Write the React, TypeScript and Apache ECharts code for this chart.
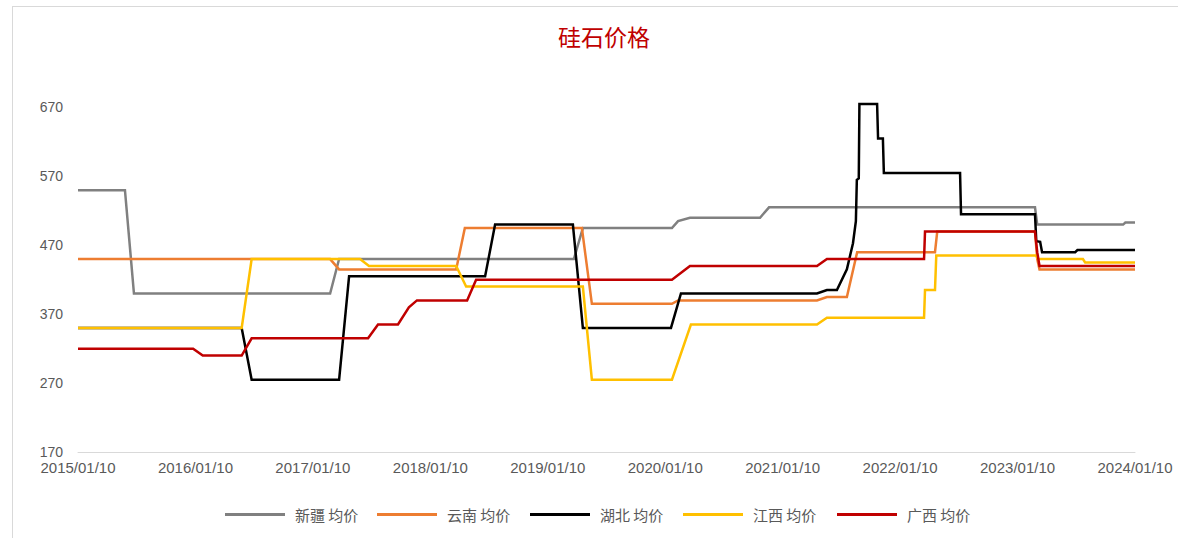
import React, { useEffect, useRef } from "react";
import * as echarts from "echarts";

// ---------- data ----------
const chartTitle = "硅石价格";
const seriesNames = ["新疆 均价", "云南 均价", "湖北 均价", "江西 均价", "广西 均价"];
const seriesColors = ["#808080", "#ED7D31", "#000000", "#FFC000", "#C00000"];
const xTickLabels = [
  "2015/01/10", "2016/01/10", "2017/01/10", "2018/01/10", "2019/01/10",
  "2020/01/10", "2021/01/10", "2022/01/10", "2023/01/10", "2024/01/10",
];
const xStart = "2015-01-10";
const xEnd = "2024-01-10";
const yTicks = [170, 270, 370, 470, 570, 670];

const xinjiang: [string, number][] = [
  ["2015-01-10", 550], ["2015-06-05", 550], ["2015-07-03", 400], ["2017-03-04", 400],
  ["2017-04-01", 450], ["2019-04-01", 450], ["2019-04-29", 495], ["2020-01-31", 495],
  ["2020-02-19", 505], ["2020-03-27", 510], ["2020-10-31", 510], ["2020-11-28", 525],
  ["2023-03-05", 525], ["2023-03-12", 500], ["2023-12-04", 500], ["2023-12-11", 503],
  ["2024-01-10", 503],
];
const yunnan: [string, number][] = [
  ["2015-01-10", 450], ["2017-03-04", 450], ["2017-04-01", 435], ["2018-03-31", 435],
  ["2018-04-27", 495], ["2019-04-26", 495], ["2019-05-27", 385], ["2020-01-31", 385],
  ["2020-02-19", 390], ["2021-04-26", 390], ["2021-05-27", 395], ["2021-07-28", 395],
  ["2021-08-29", 460], ["2022-04-28", 460], ["2022-05-05", 490], ["2023-03-05", 490],
  ["2023-03-12", 450], ["2023-03-19", 435], ["2024-01-10", 435],
];
const hubei: [string, number][] = [
  ["2015-01-10", 350], ["2016-06-02", 350], ["2016-07-03", 275], ["2017-04-01", 275],
  ["2017-05-02", 425], ["2018-06-29", 425], ["2018-07-30", 500], ["2019-03-29", 500],
  ["2019-04-29", 350], ["2020-01-28", 350], ["2020-02-28", 400], ["2021-04-26", 400],
  ["2021-05-27", 405], ["2021-06-27", 405], ["2021-07-28", 435], ["2021-08-16", 473],
  ["2021-08-25", 505], ["2021-08-28", 565], ["2021-09-03", 567], ["2021-09-05", 675],
  ["2021-10-30", 675], ["2021-11-02", 625], ["2021-11-17", 625], ["2021-11-20", 575],
  ["2022-07-15", 575], ["2022-07-18", 515], ["2023-03-05", 515], ["2023-03-09", 476],
  ["2023-03-21", 475], ["2023-03-27", 460], ["2023-07-08", 460], ["2023-07-15", 463],
  ["2024-01-10", 463],
];
const jiangxi: [string, number][] = [
  ["2015-01-10", 350], ["2016-06-02", 350], ["2016-07-03", 450], ["2017-06-05", 450],
  ["2017-07-03", 440], ["2018-03-31", 440], ["2018-05-01", 410], ["2019-04-29", 410],
  ["2019-05-27", 275], ["2020-01-31", 275], ["2020-03-30", 355], ["2021-04-26", 355],
  ["2021-05-27", 365], ["2022-03-25", 365], ["2022-03-28", 405], ["2022-04-28", 405],
  ["2022-05-02", 455], ["2023-03-08", 455], ["2023-03-15", 450], ["2023-08-01", 450],
  ["2023-08-08", 445], ["2024-01-10", 445],
];
const guangxi: [string, number][] = [
  ["2015-01-10", 320], ["2016-01-03", 320], ["2016-02-02", 310], ["2016-06-02", 310],
  ["2016-07-03", 335], ["2017-06-30", 335], ["2017-07-31", 355], ["2017-10-01", 355],
  ["2017-11-04", 380], ["2017-11-29", 390], ["2018-05-04", 390], ["2018-06-01", 420],
  ["2020-01-31", 420], ["2020-03-27", 440], ["2021-04-26", 440], ["2021-05-27", 450],
  ["2022-03-25", 450], ["2022-03-28", 490], ["2023-03-05", 490], ["2023-03-12", 460],
  ["2023-03-19", 440], ["2024-01-10", 440],
];
const seriesData = [xinjiang, yunnan, hubei, jiangxi, guangxi];

// ---------- layout ----------
const legendLefts = [220, 372, 525, 678, 832];
const FONT = "'Liberation Sans', 'Noto Sans CJK SC', sans-serif";

const toTs = (s: string) => Date.parse(s + "T00:00:00Z");

export default function App() {
  const ref = useRef<HTMLDivElement>(null);

  useEffect(() => {
    if (!ref.current) return;
    const chart = echarts.init(ref.current, null, { renderer: "svg" });
    const xMin = toTs(xStart);
    const xMax = toTs(xEnd);
    const xStep = (xMax - xMin) / (xTickLabels.length - 1);

    chart.setOption({
      animation: false,
      backgroundColor: "transparent",
      textStyle: { fontFamily: FONT },
      title: {
        text: chartTitle,
        left: 553,
        top: 19,
        textStyle: {
          color: "#C00000",
          fontSize: 23,
          fontWeight: "normal",
          fontFamily: "'Noto Sans CJK SC', sans-serif",
        },
      },
      legend: seriesNames.map((n, i) => ({
        data: [n],
        left: legendLefts[i],
        top: 502,
        icon: "rect",
        itemWidth: 60,
        itemHeight: 3,
        textStyle: {
          color: "#595959",
          fontSize: 15,
          fontFamily: "'Noto Sans CJK SC', sans-serif",
          padding: [0, 0, 0, 5],
        },
      })),
      grid: { left: 78, right: 43, top: 73, bottom: 86 },
      xAxis: {
        type: "value",
        min: xMin,
        max: xMax,
        interval: xStep,
        axisLine: { show: true, lineStyle: { color: "#D9D9D9", width: 1 } },
        axisTick: { show: false },
        splitLine: { show: false },
        axisLabel: {
          color: "#595959",
          fontSize: 15,
          margin: 8,
          showMinLabel: true,
          showMaxLabel: true,
          formatter: (v: number) => xTickLabels[Math.round((v - xMin) / xStep)] ?? "",
        },
      },
      yAxis: {
        type: "value",
        min: yTicks[0],
        max: 720,
        interval: yTicks[1] - yTicks[0],
        axisLine: { show: false },
        axisTick: { show: false },
        splitLine: { show: false },
        axisLabel: {
          color: "#595959",
          fontSize: 14,
          margin: 15,
          formatter: (v: number) => (yTicks.includes(Math.round(v)) ? String(Math.round(v)) : ""),
        },
      },
      series: seriesNames.map((n, i) => ({
        name: n,
        type: "line",
        showSymbol: false,
        symbol: "none",
        color: seriesColors[i],
        lineStyle: { color: seriesColors[i], width: 2.5, join: "miter" },
        data: seriesData[i].map(([d, v]) => [toTs(d), v]),
        z: 2 + i,
      })),
    });
    return () => chart.dispose();
  }, []);

  return (
    <div
      style={{
        position: "fixed",
        left: 0,
        top: 0,
        width: 1178,
        height: 538,
        overflow: "hidden",
        background: "#ffffff",
      }}
    >
      <div
        style={{
          position: "absolute",
          left: 12,
          top: 6,
          width: 1220,
          height: 600,
          border: "1px solid #D9D9D9",
          boxSizing: "border-box",
        }}
      />
      <div ref={ref} style={{ position: "absolute", left: 0, top: 0, width: 1178, height: 538 }} />
    </div>
  );
}
